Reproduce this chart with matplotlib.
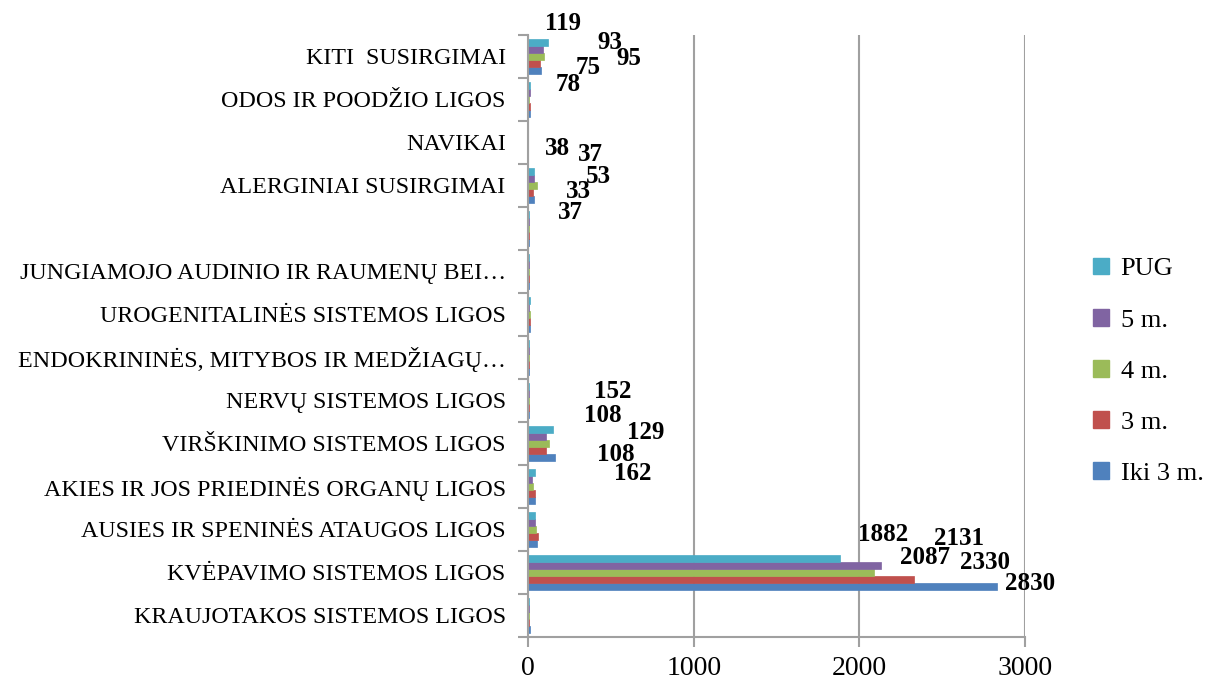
import numpy as np
import matplotlib.pyplot as plt
from matplotlib.patches import Patch

plt.rcParams['font.family'] = ['Liberation Serif', 'DejaVu Serif']

kategorijos = ['KRAUJOTAKOS SISTEMOS LIGOS', 'KVĖPAVIMO SISTEMOS LIGOS',
               'AUSIES IR SPENINĖS ATAUGOS LIGOS', 'AKIES IR JOS PRIEDINĖS ORGANŲ LIGOS',
               'VIRŠKINIMO SISTEMOS LIGOS', 'NERVŲ SISTEMOS LIGOS',
               'ENDOKRININĖS, MITYBOS IR MEDŽIAGŲ…', 'UROGENITALINĖS SISTEMOS LIGOS',
               'JUNGIAMOJO AUDINIO IR RAUMENŲ BEI…', '',
               'ALERGINIAI SUSIRGIMAI', 'NAVIKAI', 'ODOS IR POODŽIO LIGOS',
               'KITI  SUSIRGIMAI']

serijos = ['Iki 3 m.', '3 m.', '4 m.', '5 m.', 'PUG']
iki3 = [10, 2830, 55, 45, 162, 8, 7, 10, 8, 7, 37, 3, 12, 78]
m3 = [8, 2330, 60, 45, 108, 7, 6, 12, 7, 6, 33, 3, 10, 75]
m4 = [7, 2087, 50, 30, 129, 6, 7, 10, 6, 6, 53, 2, 9, 95]
m5 = [6, 2131, 40, 25, 108, 5, 6, 9, 6, 5, 37, 2, 10, 93]
pug = [9, 1882, 45, 40, 152, 8, 7, 11, 8, 7, 38, 3, 12, 119]
reiksmes = [iki3, m3, m4, m5, pug]
spalvos = ['#4F81BD', '#C0504D', '#9BBB59', '#8064A2', '#4BACC6']

# kuriose eilutese rodomi skaiciai
su_zymem = [1, 4, 10, 13]
# zymiu poslinkiai nuo stulpelio galo (px): eilute -> [(dx, dy) kiekvienai serijai]
poslinkiai = {
    1: [(33, -3), (71, -17), (51, -15), (78, -27), (43, -24)],
    4: [(78, 16), (70, 4), (96, -11), (57, -21), (60, -38)],
    10: [(36, 13), (45, -1), (62, -9), (56, -24), (23, -23)],
    13: [(27, 14), (48, 4), (85, 2), (66, -7), (15, -19)],
}

fig = plt.figure(figsize=(12.22, 6.89), dpi=100)
ax = fig.add_axes([0.432, 0.0755, 0.407, 0.874])

y = np.arange(len(kategorijos))
h = 0.16
for k, (vals, sp, name) in enumerate(zip(reiksmes, spalvos, serijos)):
    ax.barh(y + (k - 2) * h, vals, height=h, color=sp, edgecolor=sp, linewidth=0.5, label=name)

for i in su_zymem:
    for k in range(5):
        v = reiksmes[k][i]
        dx, dy = poslinkiai[i][k]
        ax.annotate(str(v), (v, i + (k - 2) * h), xytext=(dx * 0.72, -dy * 0.72),
                    textcoords='offset points', ha='center', va='center',
                    fontsize=18, fontweight='bold')

ax.set_xlim(0, 3000)
ax.set_ylim(-0.5, len(kategorijos) - 0.5)
ax.set_xticks([0, 1000, 2000, 3000])
ax.xaxis.grid(True, color='#a0a0a0', linewidth=1.5)
ax.set_axisbelow(True)

ax.set_yticks(np.arange(-0.5, len(kategorijos), 1))
ax.set_yticklabels([])
ax.set_yticks(y, minor=True)
ax.set_yticklabels(kategorijos, minor=True, fontsize=17.3)
ax.tick_params(axis='y', which='minor', length=0, pad=16)
ax.tick_params(axis='y', which='major', length=7, color='#a0a0a0', width=1.5)
ax.tick_params(axis='x', length=7, color='#a0a0a0', width=1.5, labelsize=20, pad=7)

for s in ['top', 'right']:
    ax.spines[s].set_visible(False)
for s in ['left', 'bottom']:
    ax.spines[s].set_color('#a0a0a0')
    ax.spines[s].set_linewidth(1.5)

rankenos = [Patch(color=spalvos[k], label=serijos[k]) for k in range(4, -1, -1)]
fig.legend(handles=rankenos, loc='center left', bbox_to_anchor=(0.875, 0.461),
           frameon=False, fontsize=19, handlelength=0.6, handleheight=0.6,
           handletextpad=0.45, labelspacing=1.08)

fig.savefig('out.png', dpi=100)
